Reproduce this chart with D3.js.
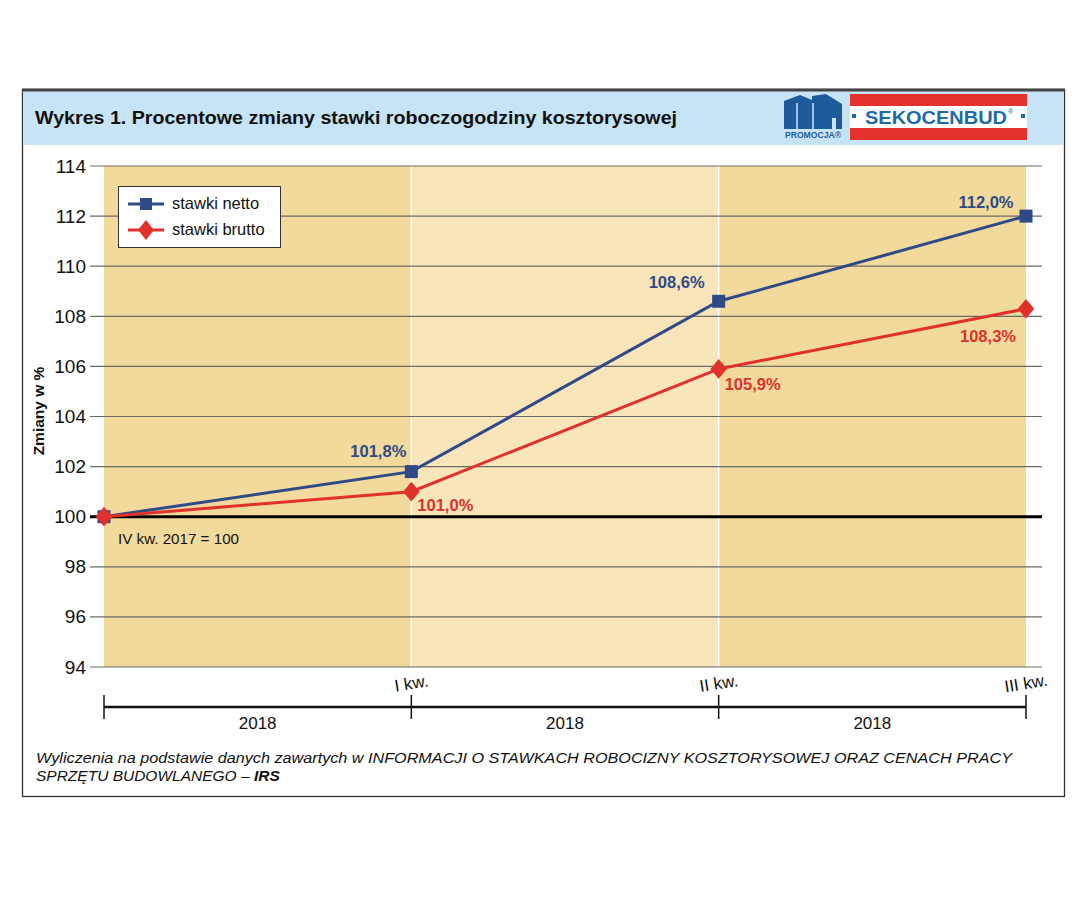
<!DOCTYPE html>
<html><head><meta charset="utf-8">
<script src="https://cdn.jsdelivr.net/npm/d3@7"></script>
<style>body{margin:0;background:#fff}svg{display:block}text{font-family:"Liberation Sans",Arial,sans-serif}</style>
</head><body>
<script>
const categories = ["IV kw. 2017", "I kw.", "II kw.", "III kw."];
const netto = [100, 101.8, 108.6, 112.0];
const brutto = [100, 101.0, 105.9, 108.3];
const nettoLabels = ["", "101,8%", "108,6%", "112,0%"];
const bruttoLabels = ["", "101,0%", "105,9%", "108,3%"];
const yTicks = [94, 96, 98, 100, 102, 104, 106, 108, 110, 112, 114];
const periodLabels = ["2018", "2018", "2018"];
const seriesNames = ["stawki netto", "stawki brutto"];

const W = 1086, H = 900;
const svg = d3.select("body").append("svg").attr("width", W).attr("height", H);
const blue = "#2f4a87", red = "#e0312d";

// frame
svg.append("rect").attr("x", 22.5).attr("y", 89.5).attr("width", 1042).attr("height", 707)
  .attr("fill", "#fff").attr("stroke", "#333").attr("stroke-width", 1.3);
svg.append("rect").attr("x", 23).attr("y", 91).attr("width", 1041).attr("height", 54).attr("fill", "#c6e4f5");
svg.append("line").attr("x1", 22).attr("x2", 1065).attr("y1", 90).attr("y2", 90).attr("stroke", "#444").attr("stroke-width", 3);
svg.append("text").attr("x", 35).attr("y", 124).attr("font-size", 19).attr("font-weight", "bold").attr("fill", "#111")
  .attr("textLength", 642).attr("lengthAdjust", "spacingAndGlyphs")
  .text("Wykres 1. Procentowe zmiany stawki roboczogodziny kosztorysowej");

// logo
const lg = svg.append("g");
lg.append("path").attr("d", "M784,129 L784,101 L800,95 L812,100 L812,96 L826,94 L842,104 L842,129 L836,129 L836,118 L832,118 L832,129 Z").attr("fill", "#1d5b9c");
lg.append("line").attr("x1", 797).attr("x2", 797).attr("y1", 103).attr("y2", 129).attr("stroke", "#c6e4f5").attr("stroke-width", 1.5);
lg.append("line").attr("x1", 813).attr("x2", 813).attr("y1", 103).attr("y2", 129).attr("stroke", "#c6e4f5").attr("stroke-width", 1.5);
lg.append("rect").attr("x", 784).attr("y", 130).attr("width", 58).attr("height", 10).attr("fill", "#c6e4f5");
lg.append("text").attr("x", 785).attr("y", 138).attr("font-size", 9).attr("font-weight", "bold").attr("font-family", "Liberation Serif, serif").attr("fill", "#1d5b9c").attr("textLength", 56).attr("lengthAdjust", "spacingAndGlyphs").text("PROMOCJA®");
lg.append("rect").attr("x", 850).attr("y", 94).attr("width", 177).attr("height", 46).attr("fill", "#e3312d");
lg.append("rect").attr("x", 850).attr("y", 106).attr("width", 177).attr("height", 22).attr("fill", "#fff");
lg.append("rect").attr("x", 852).attr("y", 114).attr("width", 4).attr("height", 4).attr("fill", "#1d6aa8");
lg.append("rect").attr("x", 1021).attr("y", 114).attr("width", 4).attr("height", 4).attr("fill", "#1d6aa8");
lg.append("text").attr("x", 865).attr("y", 124).attr("font-size", 18).attr("font-weight", "bold").attr("fill", "#1d6aa8").attr("textLength", 142).attr("lengthAdjust", "spacingAndGlyphs").text("SEKOCENBUD");
lg.append("text").attr("x", 1008).attr("y", 114).attr("font-size", 7).attr("fill", "#1d6aa8").text("®");

// scales
const x = d3.scalePoint().domain(categories).range([104, 1026]);
const y = d3.scaleLinear().domain([94, 114]).range([667, 166]);

// bands
const bandColors = ["#f2d99c", "#f8e5b9", "#f2d99c"];
for (let i = 0; i < 3; i++) {
  svg.append("rect").attr("x", x(categories[i])).attr("y", y(114)).attr("width", x(categories[i + 1]) - x(categories[i]))
    .attr("height", y(94) - y(114)).attr("fill", bandColors[i]);
}
[1, 2].forEach(i => svg.append("line").attr("x1", x(categories[i])).attr("x2", x(categories[i]))
  .attr("y1", y(114)).attr("y2", y(94)).attr("stroke", "#fff").attr("stroke-width", 1.5));

// grid / y axis
const yAxis = d3.axisLeft(y).tickValues(yTicks).tickSize(0).tickPadding(4);
const ga = svg.append("g").attr("transform", "translate(90,0)").call(yAxis);
ga.select(".domain").remove();
ga.selectAll("text").attr("font-size", 19).attr("fill", "#111").attr("font-family", "Liberation Sans, Arial");
svg.append("g").selectAll("line").data(yTicks.filter(v => v !== 100)).join("line")
  .attr("x1", 90).attr("x2", 1042).attr("y1", d => y(d)).attr("y2", d => y(d))
  .attr("stroke", "#6b6b66").attr("stroke-width", 1.2);
svg.append("line").attr("x1", 90).attr("x2", 1042).attr("y1", y(100)).attr("y2", y(100)).attr("stroke", "#000").attr("stroke-width", 3);

svg.append("text").attr("transform", "translate(44,411) rotate(-90)").attr("text-anchor", "middle")
  .attr("font-size", 15.5).attr("font-weight", "bold").attr("fill", "#111").text("Zmiany w %");

svg.append("text").attr("x", 118).attr("y", 544).attr("font-size", 15).attr("fill", "#111")
  .attr("textLength", 121).attr("lengthAdjust", "spacingAndGlyphs").text("IV kw. 2017 = 100");

// lines
const line = d3.line().x((d, i) => x(categories[i])).y(d => y(d));
svg.append("path").datum(netto).attr("d", line).attr("fill", "none").attr("stroke", blue).attr("stroke-width", 3);
svg.append("path").datum(brutto).attr("d", line).attr("fill", "none").attr("stroke", red).attr("stroke-width", 3);
svg.selectAll(".sq").data(netto).join("rect").attr("x", (d, i) => x(categories[i]) - 6.5).attr("y", d => y(d) - 6.5)
  .attr("width", 13).attr("height", 13).attr("fill", blue);
const diamond = d3.symbol().type(d3.symbolDiamond).size(140);
svg.selectAll(".dm").data(brutto).join("path").attr("d", diamond)
  .attr("transform", (d, i) => `translate(${x(categories[i])},${y(d)}) scale(1.3,0.9)`).attr("fill", red);

// data labels
const nOff = [[0, 0], [-33, -15], [-42, -13], [-40, -8]];
svg.selectAll(".nl").data(netto).join("text").attr("x", (d, i) => x(categories[i]) + nOff[i][0]).attr("y", (d, i) => y(d) + nOff[i][1])
  .attr("text-anchor", "middle").attr("font-size", 16.5).attr("font-weight", "bold").attr("fill", blue).text((d, i) => nettoLabels[i]);
const bOff = [[0, 0], [34, 19], [34, 21], [-38, 33]];
svg.selectAll(".bl").data(brutto).join("text").attr("x", (d, i) => x(categories[i]) + bOff[i][0]).attr("y", (d, i) => y(d) + bOff[i][1])
  .attr("text-anchor", "middle").attr("font-size", 16.5).attr("font-weight", "bold").attr("fill", red).text((d, i) => bruttoLabels[i]);

// legend
const lgd = svg.append("g");
lgd.append("rect").attr("x", 118.5).attr("y", 186.5).attr("width", 162).attr("height", 61).attr("fill", "#fff").attr("stroke", "#333").attr("stroke-width", 1);
lgd.append("line").attr("x1", 128).attr("x2", 164).attr("y1", 204).attr("y2", 204).attr("stroke", blue).attr("stroke-width", 3);
lgd.append("rect").attr("x", 140).attr("y", 198).attr("width", 12).attr("height", 12).attr("fill", blue);
lgd.append("line").attr("x1", 128).attr("x2", 164).attr("y1", 230).attr("y2", 230).attr("stroke", red).attr("stroke-width", 3);
lgd.append("path").attr("d", diamond).attr("transform", "translate(146,230) scale(1.25,0.9)").attr("fill", red);
lgd.append("text").attr("x", 172).attr("y", 209).attr("font-size", 16.5).attr("fill", "#111").text(seriesNames[0]);
lgd.append("text").attr("x", 172).attr("y", 235).attr("font-size", 16.5).attr("fill", "#111").text(seriesNames[1]);

// lower time axis
svg.append("line").attr("x1", x(categories[0])).attr("x2", x(categories[3])).attr("y1", 707).attr("y2", 707).attr("stroke", "#111").attr("stroke-width", 2.5);
svg.selectAll(".tk").data(categories).join("line").attr("x1", d => x(d)).attr("x2", d => x(d)).attr("y1", 695).attr("y2", 719)
  .attr("stroke", "#111").attr("stroke-width", 1.5);
svg.selectAll(".ql").data(categories.slice(1)).join("text")
  .attr("transform", d => `translate(${x(d) + 1},689) rotate(-9)`).attr("text-anchor", "middle")
  .attr("font-size", 17).attr("fill", "#111").text(d => d);
svg.selectAll(".pl").data(periodLabels).join("text")
  .attr("x", (d, i) => (x(categories[i]) + x(categories[i + 1])) / 2).attr("y", 729)
  .attr("text-anchor", "middle").attr("font-size", 17).attr("fill", "#111").text(d => d);

// footer
svg.append("text").attr("x", 36).attr("y", 763).attr("font-size", 15.5).attr("font-style", "italic").attr("fill", "#111")
  .attr("textLength", 976).attr("lengthAdjust", "spacingAndGlyphs")
  .text("Wyliczenia na podstawie danych zawartych w INFORMACJI O STAWKACH ROBOCIZNY KOSZTORYSOWEJ ORAZ CENACH PRACY");
const ft2 = svg.append("text").attr("x", 36).attr("y", 781).attr("font-size", 15.5).attr("font-style", "italic").attr("fill", "#111");
ft2.append("tspan").text("SPRZĘTU BUDOWLANEGO – ");
ft2.append("tspan").attr("font-weight", "bold").text("IRS");
</script>
</body></html>
